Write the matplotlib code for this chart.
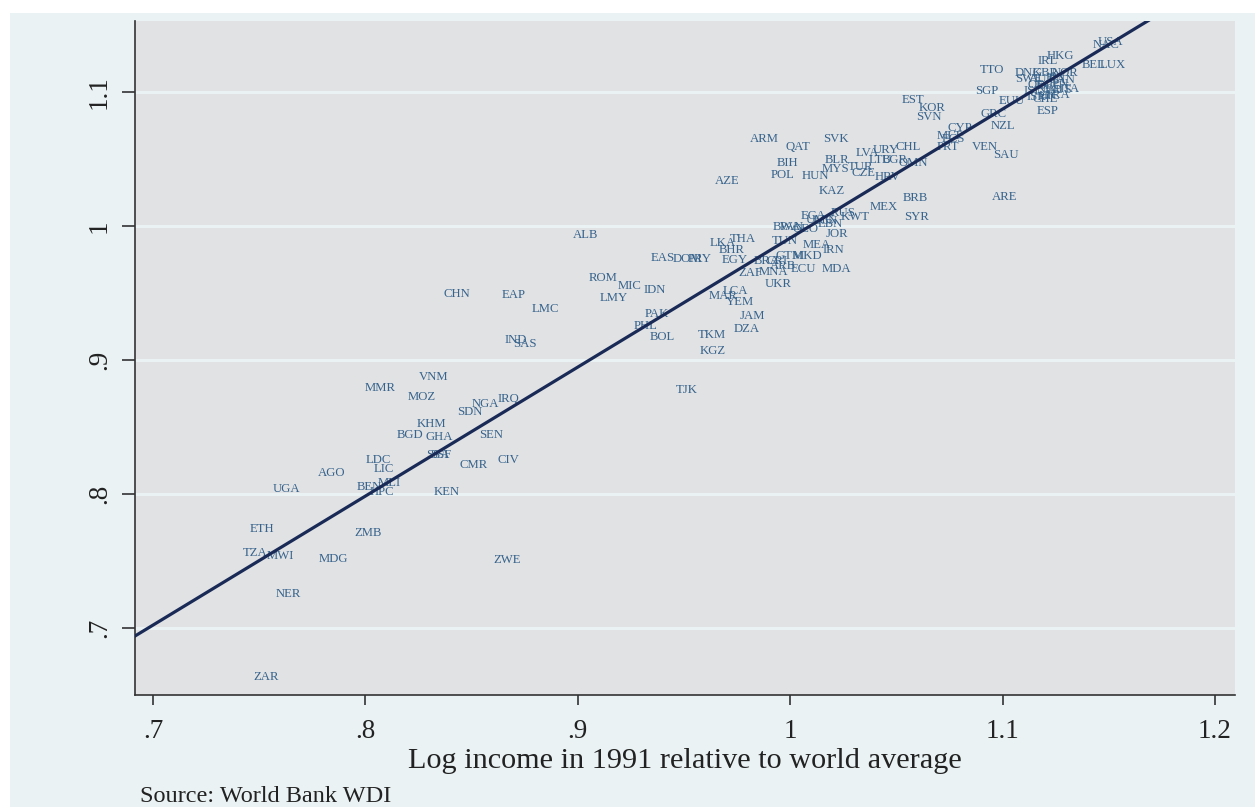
import numpy as np
import matplotlib
matplotlib.use("Agg")
import matplotlib.pyplot as plt
from matplotlib.patches import Rectangle

plt.rcParams['font.family'] = ['Liberation Serif', 'DejaVu Serif']

# country codes with (log income 1991, y value)
codes = ['USA', 'NAC', 'HKG', 'IRL', 'BEL', 'LUX', 'TTO', 'DNK', 'GBR', 'NOR',
         'SWE', 'AUT', 'FIN', 'CAN', 'OEC', 'JPN', 'DEU', 'ISL', 'NLD', 'ITA',
         'AUS', 'ISR', 'HIC', 'FRA', 'CHE', 'EUU', 'ESP', 'SGP', 'EST', 'KOR',
         'SVN', 'GRC', 'NZL', 'CYP', 'MLT', 'ECS', 'PRT', 'VEN', 'SAU', 'CHL',
         'URY', 'ARE', 'ARM', 'SVK', 'QAT', 'LVA', 'BIH', 'BLR', 'LTU', 'BGR',
         'OMN', 'MYS', 'TUR', 'CZE', 'HRV', 'POL', 'HUN', 'AZE', 'KAZ', 'BRB',
         'MEX', 'SYR', 'RUS', 'KWT', 'ECA', 'LCN', 'UMC', 'BWA', 'PAN', 'GEO',
         'LBN', 'TUN', 'THA', 'LKA', 'BHR', 'MEA', 'JOR', 'IRN', 'EAS', 'DOM',
         'PRY', 'EGY', 'BRA', 'CRI', 'GTM', 'MKD', 'ARB', 'ECU', 'MDA', 'ZAF',
         'MNA', 'UKR', 'IDN', 'ALB', 'ROM', 'MIC', 'LMY', 'PAK', 'PHL', 'BOL',
         'LCA', 'MAR', 'YEM', 'JAM', 'DZA', 'TKM', 'KGZ', 'TJK', 'CHN', 'EAP',
         'LMC', 'IND', 'SAS', 'VNM', 'MMR', 'MOZ', 'NGA', 'IRQ', 'SDN', 'KHM',
         'BGD', 'GHA', 'SEN', 'SSA', 'SSF', 'LDC', 'LIC', 'AGO', 'CMR', 'CIV',
         'UGA', 'BEN', 'MLI', 'HPC', 'KEN', 'ETH', 'ZMB', 'TZA', 'MWI', 'MDG',
         'ZWE', 'NER', 'ZAR']

income91 = [1.1506, 1.1487, 1.1270, 1.1214, 1.1430, 1.1520, 1.0950, 1.1120, 1.1200, 1.1294,
            1.1120, 1.1186, 1.1251, 1.1280, 1.1176, 1.1261, 1.1223, 1.1143, 1.1223, 1.1317,
            1.1270, 1.1157, 1.1223, 1.1261, 1.1200, 1.1044, 1.1214, 1.0927, 1.0578, 1.0668,
            1.0653, 1.0955, 1.1002, 1.0799, 1.0752, 1.0766, 1.0743, 1.0917, 1.1016, 1.0555,
            1.0451, 1.1011, 0.9877, 1.0216, 1.0037, 1.0362, 0.9985, 1.0220, 1.0423, 1.0493,
            1.0578, 1.0211, 1.0329, 1.0343, 1.0460, 0.9966, 1.0117, 0.9702, 1.0197, 1.0588,
            1.0442, 1.0597, 1.0249, 1.0305, 1.0107, 1.0164, 1.0140, 0.9985, 1.0008, 1.0070,
            1.0187, 0.9976, 0.9778, 0.9684, 0.9726, 1.0126, 1.0220, 1.0202, 0.9401, 0.9514,
            0.9575, 0.9740, 0.9891, 0.9938, 0.9999, 1.0079, 0.9966, 1.0060, 1.0220, 0.9811,
            0.9919, 0.9943, 0.9363, 0.9034, 0.9119, 0.9246, 0.9170, 0.9373, 0.9321, 0.9396,
            0.9740, 0.9684, 0.9764, 0.9820, 0.9797, 0.9632, 0.9637, 0.9514, 0.8431, 0.8700,
            0.8846, 0.8709, 0.8751, 0.8323, 0.8069, 0.8266, 0.8563, 0.8671, 0.8492, 0.8309,
            0.8210, 0.8347, 0.8591, 0.8342, 0.8356, 0.8059, 0.8088, 0.7843, 0.8511, 0.8671,
            0.7626, 0.8017, 0.8111, 0.8078, 0.8384, 0.7513, 0.8012, 0.7480, 0.7598, 0.7847,
            0.8667, 0.7636, 0.7532]

yvals = [1.1375, 1.1351, 1.1269, 1.1231, 1.1201, 1.1201, 1.1164, 1.1142, 1.1142, 1.1142,
         1.1097, 1.1097, 1.1104, 1.1090, 1.1052, 1.1060, 1.1045, 1.1007, 1.1015, 1.1022,
         1.1015, 1.0963, 1.0970, 1.0978, 1.0948, 1.0933, 1.0858, 1.1007, 1.0940, 1.0881,
         1.0813, 1.0836, 1.0746, 1.0731, 1.0672, 1.0649, 1.0590, 1.0590, 1.0530, 1.0590,
         1.0567, 1.0216, 1.0649, 1.0649, 1.0590, 1.0545, 1.0470, 1.0493, 1.0493, 1.0493,
         1.0470, 1.0425, 1.0440, 1.0396, 1.0366, 1.0381, 1.0373, 1.0336, 1.0261, 1.0209,
         1.0142, 1.0067, 1.0097, 1.0067, 1.0075, 1.0037, 1.0045, 0.9993, 0.9993, 0.9978,
         1.0015, 0.9888, 0.9903, 0.9873, 0.9821, 0.9858, 0.9940, 0.9821, 0.9761, 0.9754,
         0.9754, 0.9746, 0.9739, 0.9739, 0.9776, 0.9776, 0.9701, 0.9679, 0.9679, 0.9649,
         0.9657, 0.9567, 0.9522, 0.9933, 0.9612, 0.9552, 0.9463, 0.9343, 0.9254, 0.9172,
         0.9515, 0.9478, 0.9433, 0.9328, 0.9231, 0.9187, 0.9067, 0.8776, 0.9493, 0.9485,
         0.9381, 0.9149, 0.9119, 0.8873, 0.8791, 0.8724, 0.8672, 0.8709, 0.8612, 0.8522,
         0.8440, 0.8425, 0.8440, 0.8291, 0.8291, 0.8254, 0.8187, 0.8157, 0.8216, 0.8254,
         0.8037, 0.8052, 0.8082, 0.8015, 0.8015, 0.7739, 0.7709, 0.7560, 0.7537, 0.7515,
         0.7507, 0.7254, 0.6634]

# fitted line
fit_slope = 0.9627
fit_intercept = 0.0283

W, H = 1255, 807
fig = plt.figure(figsize=(W / 100, H / 100), dpi=100)
fig.patch.set_facecolor('white')
bg = Rectangle((10 / W, 0), 1 - 10 / W, 1 - 13 / H, transform=fig.transFigure,
               facecolor='#EAF2F3', edgecolor='none', zorder=-10)
fig.add_artist(bg)

ax = fig.add_axes([135 / W, 1 - 695 / H, 1100 / W, (695 - 20.7) / H])
ax.set_zorder(1)
ax.set_facecolor('#E1E2E4')
ax.set_xlim(0.6915, 1.2094)
ax.set_ylim(0.65, 1.1532)

for yv in [0.7, 0.8, 0.9, 1.0, 1.1]:
    ax.axhline(yv, color='#EAF2F3', lw=2.2, zorder=1)

xs = np.array(ax.get_xlim())
ax.plot(xs, fit_intercept + fit_slope * xs, color='#1A2A57', lw=2.3, zorder=3)

for c, xv, yv in zip(codes, income91, yvals):
    ax.text(xv, yv, c, fontsize=9.2, color='#37638C', ha='center', va='center',
            zorder=2)

ax.set_xticks([0.7, 0.8, 0.9, 1.0, 1.1, 1.2])
ax.set_xticklabels(['.7', '.8', '.9', '1', '1.1', '1.2'])
ax.set_yticks([0.7, 0.8, 0.9, 1.0, 1.1])
ax.set_yticklabels(['.7', '.8', '.9', '1', '1.1'], rotation=90, va='center')

for s in ['top', 'right']:
    ax.spines[s].set_visible(False)
for s in ['left', 'bottom']:
    ax.spines[s].set_color('#333333')
    ax.spines[s].set_linewidth(1.2)

ax.tick_params(axis='x', length=7.5, width=1.2, color='#333333',
               labelsize=19.5, pad=10, labelcolor='#222222')
ax.tick_params(axis='y', length=9.5, width=1.2, color='#333333',
               labelsize=19.5, pad=7, labelcolor='#222222')

ax.set_xlabel('Log income in 1991 relative to world average', fontsize=21.8,
              color='#222222', labelpad=3)

fig.text(140 / W, 1 - 797 / H, 'Source: World Bank WDI', fontsize=17.5,
         color='#222222', ha='left', va='center')

fig.savefig('out.png', dpi=100)
